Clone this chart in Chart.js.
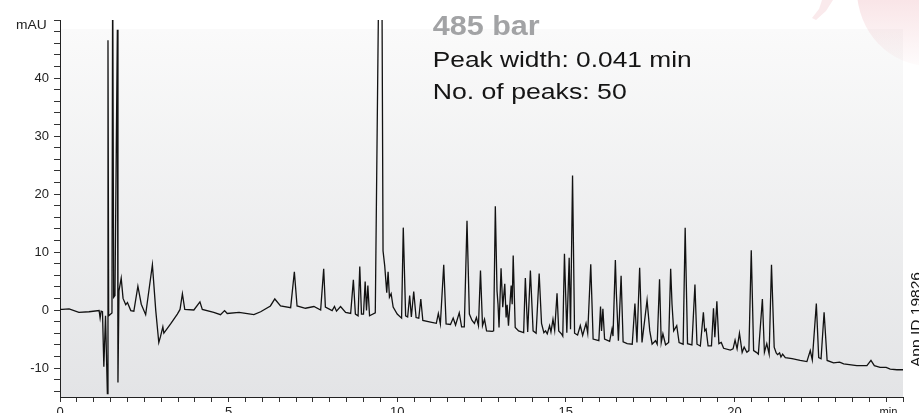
<!DOCTYPE html>
<html>
<head>
<meta charset="utf-8">
<script src="https://cdn.jsdelivr.net/npm/chart.js@4.4.0/dist/chart.umd.min.js"></script>
<style>
  html, body { margin: 0; padding: 0; background: #fff; }
  #wrap { width: 919px; height: 413px; }
</style>
</head>
<body>
<div id="wrap"><canvas id="chrom" width="919" height="413"></canvas></div>
<script>
// retention time (min) and signal (mAU)
var retentionTime = [
  0.00, 0.07, 0.27, 0.56, 0.86, 1.16, 1.19, 1.22, 1.26, 1.30,
  1.35, 1.405, 1.423, 1.443, 1.541, 1.562, 1.592, 1.630, 1.701, 1.719,
  1.749, 1.815, 1.87, 1.95, 2.00, 2.10, 2.19, 2.31, 2.41, 2.54,
  2.74, 2.84, 2.93, 2.98, 3.05, 3.08, 3.28, 3.48, 3.56, 3.63,
  3.70, 3.97, 4.15, 4.22, 4.56, 4.76, 4.88, 4.96, 5.31, 5.75,
  5.95, 6.24, 6.37, 6.54, 6.84, 6.95, 7.03, 7.28, 7.53, 7.73,
  7.82, 7.87, 8.07, 8.14, 8.20, 8.32, 8.47, 8.62, 8.70, 8.76,
  8.84, 8.89, 8.94, 9.00, 9.05, 9.09, 9.13, 9.18, 9.35, 9.52,
  9.58, 9.63, 9.69, 9.73, 9.77, 9.82, 9.88, 10.00, 10.13, 10.18,
  10.25, 10.31, 10.37, 10.42, 10.49, 10.56, 10.64, 10.70, 10.76, 10.99,
  11.16, 11.22, 11.28, 11.38, 11.45, 11.58, 11.66, 11.73, 11.84, 11.91,
  11.99, 12.07, 12.14, 12.22, 12.29, 12.35, 12.41, 12.47, 12.53, 12.59,
  12.65, 12.82, 12.86, 12.91, 12.96, 12.99, 13.02, 13.08, 13.13, 13.19,
  13.23, 13.26, 13.30, 13.38, 13.41, 13.44, 13.50, 13.60, 13.75, 13.80,
  13.87, 13.95, 14.03, 14.12, 14.21, 14.28, 14.35, 14.40, 14.45, 14.52,
  14.56, 14.62, 14.67, 14.74, 14.79, 14.87, 14.91, 14.96, 15.03, 15.10,
  15.14, 15.20, 15.26, 15.35, 15.43, 15.50, 15.60, 15.65, 15.74, 15.81,
  15.98, 16.03, 16.06, 16.10, 16.15, 16.30, 16.37, 16.40, 16.47, 16.50,
  16.56, 16.64, 16.70, 16.82, 16.97, 17.05, 17.11, 17.19, 17.26, 17.41,
  17.49, 17.56, 17.66, 17.71, 17.78, 17.83, 17.88, 17.96, 18.05, 18.11,
  18.15, 18.20, 18.29, 18.36, 18.48, 18.54, 18.61, 18.74, 18.83, 18.89,
  18.99, 19.08, 19.12, 19.16, 19.22, 19.32, 19.38, 19.42, 19.48, 19.54,
  19.61, 19.68, 19.88, 19.96, 20.02, 20.08, 20.15, 20.23, 20.29, 20.37,
  20.43, 20.50, 20.57, 20.65, 20.71, 20.83, 20.89, 20.96, 21.03, 21.10,
  21.18, 21.24, 21.28, 21.34, 21.38, 21.43, 21.51, 21.71, 21.95, 22.15,
  22.25, 22.31, 22.43, 22.50, 22.57, 22.66, 22.75, 22.94, 23.12, 23.24,
  23.63, 23.93, 24.05, 24.15, 24.32, 24.50, 24.62, 24.82, 25.00
];
var absorbance = [
  0.1, 0.1, 0.2, -0.4, -0.3, -0.1, -1.4, -0.2, -0.3, -9.8,
  -1.0, -14.4, 46.5, -1.0, -0.5, 60, 2.2, 2.5, 48.3, -12.5,
  3.3, 5.5, 2.0, 0.9, 1.3, -0.1, -0.2, 4.1, 1.0, -0.8,
  7.8, -0.1, -5.6, -4.6, -2.9, -4.0, -2.4, -0.7, 0.1, 2.8,
  0.1, 0.0, 1.4, 0.1, -0.4, -0.8, -0.1, -0.6, -0.4, -0.8,
  -0.3, 0.7, 1.9, 0.7, 0.4, 6.6, 0.7, 0.3, 0.6, 0.0,
  7.1, 0.5, -0.1, 0.6, -0.2, 0.6, -0.4, -0.6, 5.2, -0.7,
  -1.0, 7.5, -0.7, -0.7, 4.9, -0.1, 4.2, -1.0, -0.5, 95,
  10.2, 7.6, 3.0, 6.6, 2.2, 2.8, 0.5, -0.7, -1.4, 14.2,
  -1.0, -1.2, 2.5, -1.2, 3.2, -1.3, -1.4, 1.9, -1.8, -2.1,
  -2.3, -0.6, -2.4, 7.8, -2.4, -2.5, -1.4, -2.6, -0.5, -2.9,
  -2.9, 15.4, -0.7, -1.8, -2.3, -1.3, -2.7, 6.8, -2.7, -1.6,
  -3.6, -3.7, -3.6, 17.9, 3.3, 1.0, -3.0, 7.2, 0.5, 4.5,
  -1.3, 0.9, -2.7, 4.2, 1.0, 9.4, -3.0, -3.6, -3.9, 5.5,
  -3.8, 6.8, -3.6, -4.0, 6.3, -2.3, -3.9, -3.6, -4.1, -2.7,
  -3.8, -1.6, -3.5, 2.9, -3.6, -4.1, -4.5, 9.7, -3.9, 9.0,
  -3.3, 23.2, -4.0, -4.3, -2.7, -4.4, -2.3, -4.0, 7.9, -5.0,
  -5.3, 0.6, -3.6, 0.2, -5.0, -5.4, -3.3, -4.5, 8.6, 2.8,
  -5.3, 5.9, -5.5, -5.8, -5.9, 1.1, -5.6, 7.3, -5.6, 1.7,
  -3.6, -5.9, -5.3, -5.9, 5.3, -5.6, -4.1, -6.0, -5.6, 7.1,
  1.0, -3.6, -2.7, -5.6, -5.9, 14.2, -5.8, -6.0, 4.4, -5.9,
  -6.2, -0.4, -3.6, -3.3, -6.2, -6.2, 0.3, -4.7, 1.5, -5.8,
  -5.6, -6.6, -6.9, -6.7, -5.2, -6.7, -4.0, -7.3, -6.4, -7.3,
  -7.0, 10.3, -7.0, -7.3, -7.6, 1.9, -7.3, -5.8, -7.6, 7.8,
  -6.4, -7.4, -7.7, -7.4, -8.1, -7.6, -8.2, -8.4, -8.7, -8.9,
  -7.0, -8.6, 1.1, -8.2, -8.4, -0.4, -8.7, -9.1, -9.0, -9.3,
  -9.6, -9.6, -8.7, -9.6, -9.9, -9.9, -10.2, -10.3, -10.3
];

// axis ranges and label steps
var timeRange = [0, 25];
var signalRange = [-15, 50];
var timeLabelEvery = 5;
var signalLabelEvery = 10;

var headline = '485 bar';
var infoLines = ['Peak width: 0.041 min', 'No. of peaks: 50'];
var appId = 'App ID 19826';

var FONT = 'Liberation Sans, Arial, Helvetica, sans-serif';

// draws text squeezed/stretched to a given width
const fitText = function (ctx, text, x, y, font, color, width) {
    ctx.save();
    ctx.font = font;
    ctx.fillStyle = color;
    ctx.textBaseline = 'alphabetic';
    var w = ctx.measureText(text).width;
    ctx.translate(x, y);
    ctx.scale(width / w, 1);
    ctx.fillText(text, 0, 0);
    ctx.restore();
}

const decor = {
    id: 'decor',
    beforeDraw: function (chart) {
        var ctx = chart.ctx, area = chart.chartArea;
        ctx.save();
        ctx.fillStyle = '#ffffff';
        ctx.fillRect(0, 0, chart.width, chart.height);

        // grey panel behind the trace
        var top = area.top + 9;
        var g = ctx.createLinearGradient(0, top, 0, area.bottom);
        g.addColorStop(0, '#fafafa');
        g.addColorStop(1, '#e3e4e6');
        ctx.fillStyle = g;
        ctx.fillRect(area.left, top, area.right - area.left, area.bottom - top);

        // faint watermark in the corner
        var p = ctx.createLinearGradient(0, 0, 0, 66);
        p.addColorStop(0, 'rgba(215,80,95,0.15)');
        p.addColorStop(1, 'rgba(215,80,95,0.02)');
        ctx.fillStyle = p;
        ctx.beginPath();
        ctx.ellipse(930, -10, 73, 76, 0, 0, Math.PI * 2);
        ctx.fill();
        ctx.fillStyle = 'rgba(215,80,95,0.12)';
        ctx.beginPath();
        ctx.moveTo(822, 0);
        ctx.lineTo(833, 0);
        ctx.lineTo(826, 11);
        ctx.lineTo(816, 20);
        ctx.lineTo(812, 18);
        ctx.lineTo(819, 9);
        ctx.closePath();
        ctx.fill();
        ctx.restore();
    },
    afterDraw: function (chart) {
        var ctx = chart.ctx;
        fitText(ctx, headline, 432.7, 35, 'bold 28px ' + FONT, '#a2a3a5', 107);
        fitText(ctx, infoLines[0], 432.7, 66.7, '22px ' + FONT, '#151515', 259);
        fitText(ctx, infoLines[1], 432.7, 99, '22px ' + FONT, '#151515', 194);

        // axis unit labels
        fitText(ctx, 'mAU', 16, 29, '13px ' + FONT, '#222', 30.7);
        fitText(ctx, 'min', 879.5, 416, '13px ' + FONT, '#222', 18);

        ctx.save();
        ctx.translate(921, 367);
        ctx.rotate(-Math.PI / 2);
        fitText(ctx, appId, 0, 0, '14px ' + FONT, '#151515', 95);
        ctx.restore();
    }
};

var points = retentionTime.map(function (t, i) {
    return { x: t, y: absorbance[i] };
});

new Chart(document.getElementById('chrom').getContext('2d'), {
    type: 'line',
    data: {
        datasets: [{
            data: points,
            borderColor: '#121212',
            borderWidth: 1.3,
            pointRadius: 0,
            tension: 0,
            fill: false
        }]
    },
    options: {
        responsive: false,
        animation: false,
        devicePixelRatio: 1,
        layout: { padding: { left: 0, right: 16, top: 20, bottom: 0 } },
        plugins: { legend: { display: false }, tooltip: { enabled: false } },
        scales: {
            x: {
                type: 'linear',
                min: timeRange[0],
                max: timeRange[1],
                afterFit: function (scale) { scale.height = 16; },
                border: { display: true, color: '#222', width: 1 },
                grid: { drawOnChartArea: false, drawTicks: true, tickLength: 5, color: '#333' },
                ticks: {
                    stepSize: 0.5,
                    autoSkip: false,
                    maxRotation: 0,
                    padding: 3,
                    color: '#222',
                    font: { family: FONT, size: 13 },
                    callback: function (v) {
                        return (Math.abs(v % timeLabelEvery) < 1e-6 && v < timeRange[1]) ? v : '';
                    }
                }
            },
            y: {
                min: signalRange[0],
                max: signalRange[1],
                afterFit: function (scale) { scale.width = 60; },
                border: { display: true, color: '#222', width: 1 },
                grid: { drawOnChartArea: false, drawTicks: true, tickLength: 6, color: '#333' },
                ticks: {
                    stepSize: 2,
                    includeBounds: false,
                    autoSkip: false,
                    padding: 5,
                    color: '#222',
                    font: { family: FONT, size: 13 },
                    callback: function (v) {
                        return (v % signalLabelEvery === 0 && v < signalRange[1]) ? v : '';
                    }
                }
            }
        }
    },
    plugins: [decor]
});
</script>
</body>
</html>
